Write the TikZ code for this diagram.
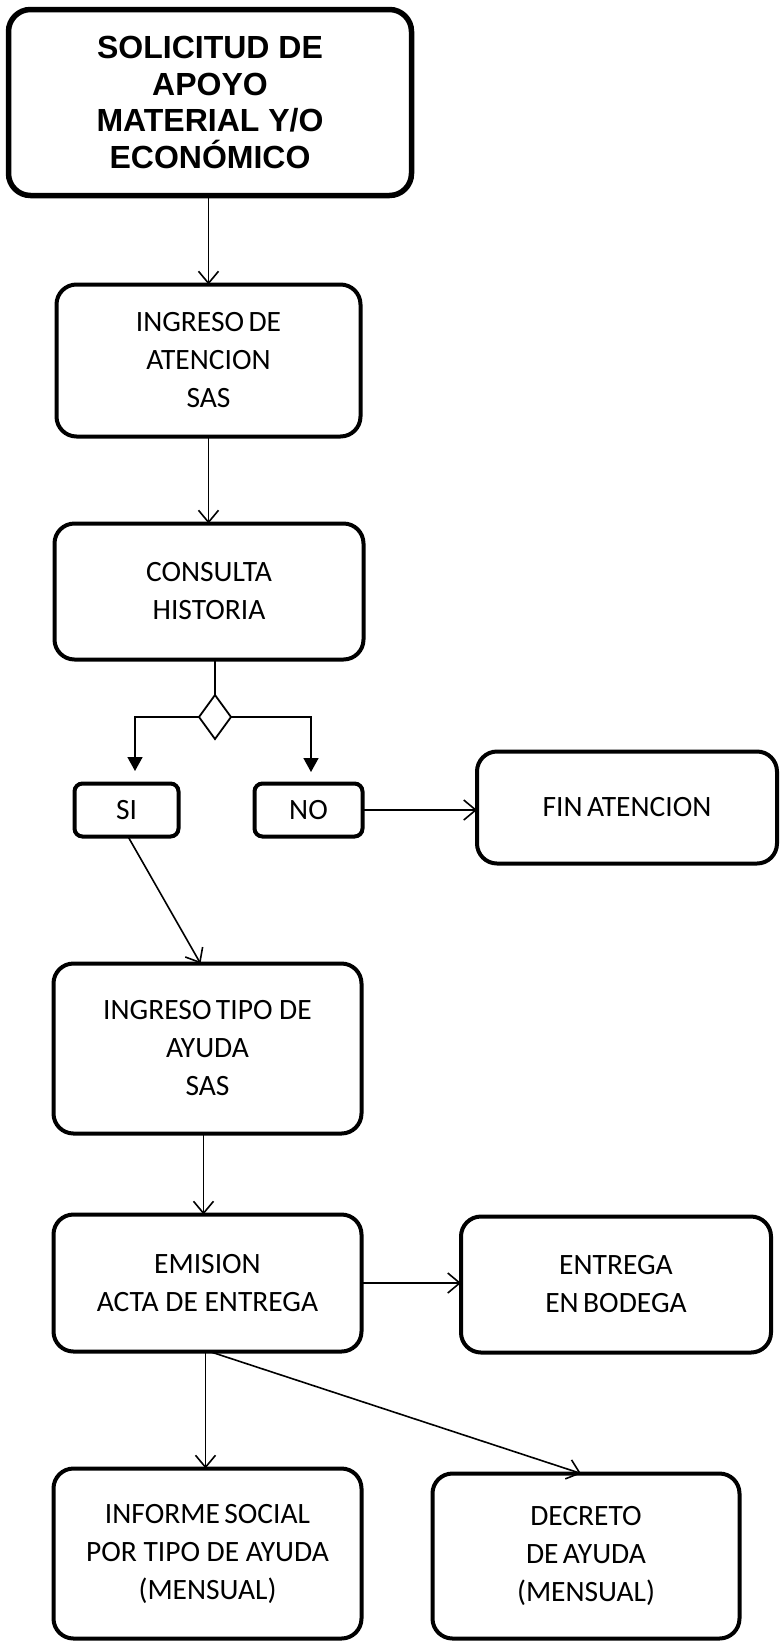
\documentclass[tikz,border=0pt]{standalone}
\usepackage{fontspec}
\setmainfont{Carlito}
\newfontfamily\headfont{Liberation Sans}
\usetikzlibrary{arrows.meta,shapes.geometric}
% tight word gap used in some labels
\newcommand{\tsp}{\hspace{0.15em}}
\begin{document}
\begin{tikzpicture}[x=1pt,y=-1pt,
  every node/.style={inner sep=0pt, outer sep=0pt},
  stepbox/.style={draw, rounded corners=20pt, line width=4pt, align=center,
    font=\fontsize{29.5}{38}\selectfont},
  headbox/.style={draw, rounded corners=22pt, line width=5.5pt, align=center,
    font=\headfont\bfseries\fontsize{32}{36.5}\selectfont},
  smallbox/.style={draw, rounded corners=8pt, line width=4pt, align=center,
    font=\fontsize{29.5}{38}\selectfont},
  decision/.style={draw, diamond, line width=1.8pt, inner sep=0pt},
  arr/.style={-{Straight Barb[length=12pt,width=20pt]}, line width=1.6pt},
  tri/.style={-{Triangle[length=14pt,width=15pt]}, line width=1.6pt},
  link/.style={line width=1.6pt}
]
\useasboundingbox (0,0) rectangle (781,1642);

% process boxes
\node[headbox, minimum width=403pt, minimum height=186pt] (sol) at (210,102.5)
  {SOLICITUD DE\\APOYO\\MATERIAL Y/O\\ECONÓMICO};
\node[stepbox, minimum width=304pt, minimum height=152pt] (ing) at (208.5,360.5)
  {INGRESO\tsp DE\\ATENCION\\SAS};
\node[stepbox, minimum width=309pt, minimum height=136pt] (con) at (209,591.5)
  {CONSULTA\\HISTORIA};
\node[decision, minimum width=32pt, minimum height=44pt] (dec) at (215,717) {};
\node[smallbox, minimum width=104pt, minimum height=53pt] (si) at (126.5,810) {SI};
\node[smallbox, minimum width=108pt, minimum height=53pt] (no) at (308.5,810) {NO};
\node[stepbox, minimum width=300pt, minimum height=112pt] (fin) at (627,807.5)
  {FIN\tsp ATENCION};
\node[stepbox, minimum width=308pt, minimum height=170pt] (tipo) at (207.5,1048.5)
  {INGRESO\tsp TIPO DE\\AYUDA\\SAS};
\node[stepbox, minimum width=308pt, minimum height=137pt] (emi) at (207.5,1283)
  {EMISION\\ACTA DE ENTREGA};
\node[stepbox, minimum width=310pt, minimum height=136pt] (bod) at (616,1284.5)
  {ENTREGA\\EN\tsp BODEGA};
\node[stepbox, minimum width=308pt, minimum height=170pt] (inf) at (207.5,1553.5)
  {INFORME\tsp SOCIAL\\POR TIPO DE AYUDA\\(MENSUAL)};
\node[stepbox, minimum width=307pt, minimum height=165pt] (dto) at (586,1556)
  {DECRETO\\DE\tsp AYUDA\\(MENSUAL)};

% ends of the branch arrows above SI / NO
\coordinate (siin) at (135,771);
\coordinate (noin) at (311,772);

% connectors
\draw[arr] (ing.north |- sol.south) -- (ing.north);
\draw[arr] (ing.south) -- (ing.south |- con.north);
\draw[link] (dec.north |- con.south) -- (dec.north);
\draw[tri] (dec.west) -| (siin);
\draw[tri] (dec.east) -| (noin);
\draw[arr] (no.east) -- (no.east -| fin.west);
\draw[arr] ([xshift=1.5pt]si.south) -- ([xshift=-7pt]tipo.north);
\draw[arr] ([xshift=-4pt]tipo.south) -- ([xshift=-4pt]tipo.south |- emi.north);
\draw[arr] (emi.east) -- (emi.east -| bod.west);
\draw[arr] ([xshift=-2pt]emi.south) -- ([xshift=-2pt]emi.south |- inf.north);
\draw[arr] ([xshift=2pt]emi.south) -- ([xshift=-5pt]dto.north);
\end{tikzpicture}
\end{document}
